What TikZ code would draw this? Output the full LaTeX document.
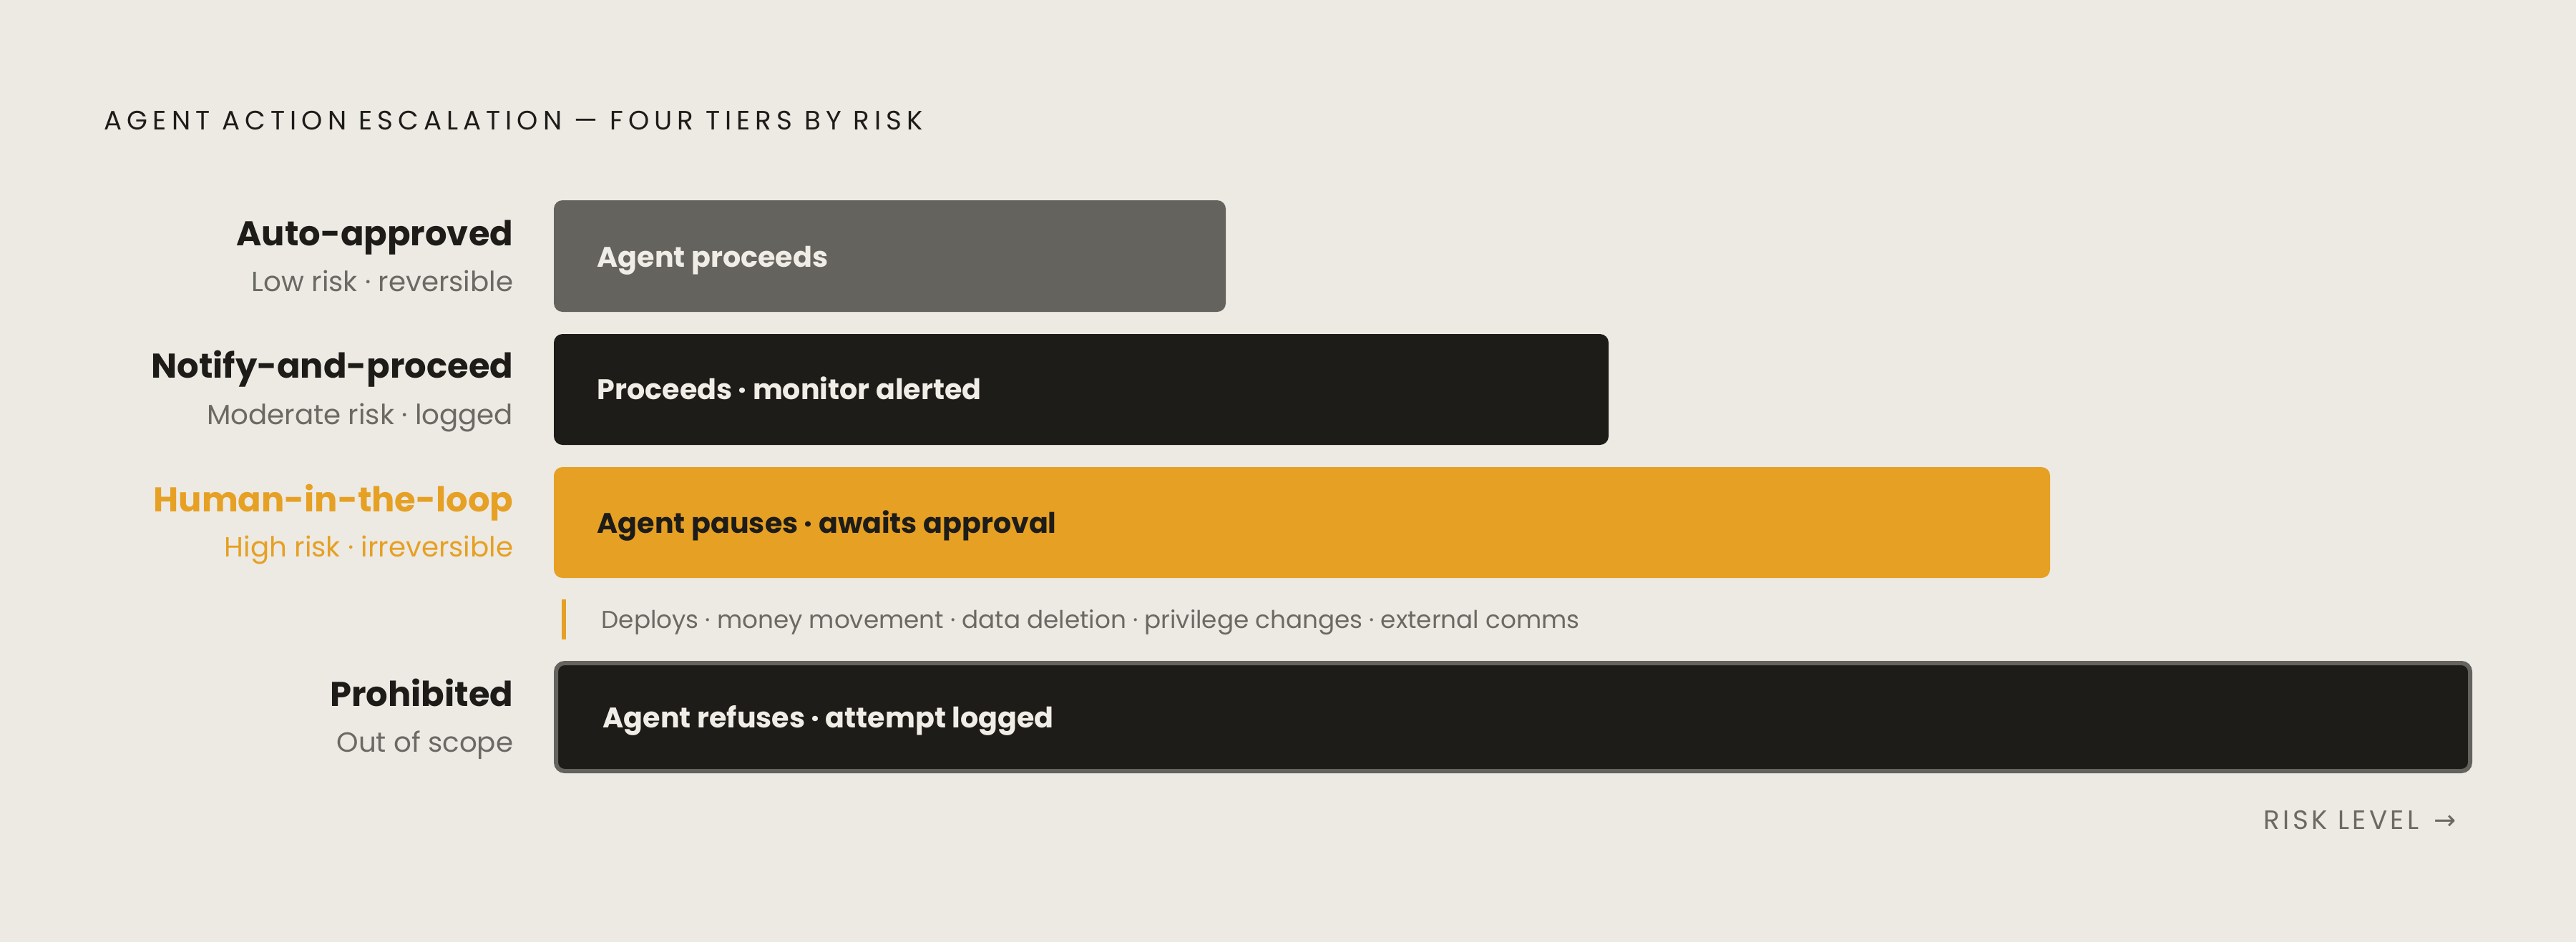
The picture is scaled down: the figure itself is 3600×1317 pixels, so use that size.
\documentclass[tikz,border=0pt]{standalone}
\usepackage{fontspec}
\setmainfont{Poppins}
\newfontfamily\arrowfont{DejaVu Sans}
\newfontfamily\spaced[LetterSpace=19]{Poppins}
\newfontfamily\spacedb[LetterSpace=12]{Poppins}
\definecolor{bg}{HTML}{EDEAE4}
\definecolor{ink}{HTML}{1D1C18}
\definecolor{slate}{HTML}{65635E}
\definecolor{mute}{HTML}{6B6963}
\definecolor{amber}{HTML}{E6A023}
\definecolor{paper}{HTML}{F0EDE6}
\tikzset{
  tiertitle/.style={anchor=base east, inner sep=0pt, font=\bfseries\fontsize{12pt}{15pt}\selectfont},
  tiersub/.style={anchor=base east, inner sep=0pt, text=mute, font=\fontsize{9.7pt}{12pt}\selectfont},
  bartext/.style={anchor=base west, inner sep=0pt, font=\bfseries\fontsize{9.9pt}{12pt}\selectfont},
  barbox/.style={rounded corners=3pt},
}
\begin{document}
\begin{tikzpicture}[x=0.25pt, y=-0.25pt]
\useasboundingbox (0,0) rectangle (3600,1317);
\fill[bg] (0,0) rectangle (3600,1317);
% title
\node[anchor=base west, inner sep=0pt, text=ink, font=\spaced\fontsize{9.3pt}{11pt}\selectfont] (title) at (145,181) {AGENT ACTION ESCALATION — FOUR TIERS BY RISK};
% row 1
\fill[slate, barbox] (774,280) rectangle (1713,436);
\node[bartext, text=paper] (b1) at (834,373) {Agent proceeds};
\node[tiertitle, text=ink] (t1) at (718,343) {Auto-approved};
\node[tiersub] (s1) at (718,407) {Low risk · reversible};
% row 2
\fill[ink, barbox] (774,467) rectangle (2248,622);
\node[bartext, text=paper] (b2) at (834,558) {Proceeds · monitor alerted};
\node[tiertitle, text=ink] (t2) at (718,528) {Notify-and-proceed};
\node[tiersub] (s2) at (718,593) {Moderate risk · logged};
% row 3
\fill[amber, barbox] (774,653) rectangle (2865,808);
\node[bartext, text=ink] (b3) at (834,745) {Agent pauses · awaits approval};
\node[tiertitle, text=amber] (t3) at (718,715) {Human-in-the-loop};
\node[tiersub, text=amber] (s3) at (718,778) {High risk · irreversible};
% note
\draw[amber, line width=1.3pt] (788,838) -- (788,894);
\node[anchor=base west, inner sep=0pt, text=mute, font=\fontsize{8.55pt}{11pt}\selectfont] (note) at (840,878) {Deploys · money movement · data deletion · privilege changes · external comms};
% row 4
\filldraw[fill=ink, draw=slate, line width=1.5pt, barbox] (777,927) rectangle (3452,1078);
\node[bartext, text=paper] (b4) at (842,1017) {Agent refuses · attempt logged};
\node[tiertitle, text=ink] (t4) at (718,987) {Prohibited};
\node[tiersub] (s4) at (718,1051) {Out of scope};
% axis label
\node[anchor=base east, inner sep=0pt, text=mute, font=\spacedb\fontsize{9.3pt}{11pt}\selectfont] (risk) at (3433,1159) {RISK LEVEL \,{\arrowfont →}};
\end{tikzpicture}
\end{document}
